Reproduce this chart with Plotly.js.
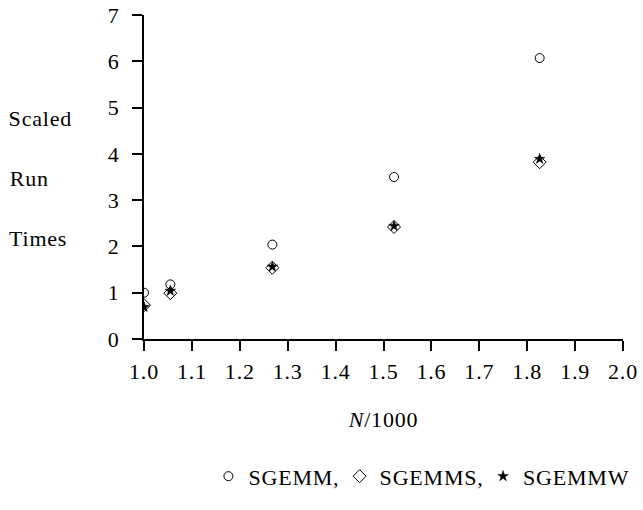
<!DOCTYPE html>
<html>
<head>
<meta charset="utf-8">
<script src="https://cdn.plot.ly/plotly-3.0.1.min.js"></script>
<style>
html,body{margin:0;padding:0;background:#fff;}
#chart{width:643px;height:510px;}
#chart .main-svg text{letter-spacing:0.8px;}
</style>
</head>
<body>
<div id="chart"></div>
<script>
// N/1000 values
const nValues = [1.0, 1.055, 1.268, 1.522, 1.826];
// Scaled run times
const sgemm  = [1.00, 1.18, 2.04, 3.50, 6.07];
const sgemms = [0.73, 0.99, 1.54, 2.42, 3.82];
const sgemmw = [0.69, 1.04, 1.56, 2.44, 3.89];
const seriesNames = ["SGEMM,", "SGEMMS,", "SGEMMW"];
const xTicks = [1.0, 1.1, 1.2, 1.3, 1.4, 1.5, 1.6, 1.7, 1.8, 1.9, 2.0];
const yTicks = [0, 1, 2, 3, 4, 5, 6, 7];
const yLabelLines = ["Scaled", "Run", "Times"];

const FONT = "Liberation Serif, DejaVu Serif, serif";
const FS = 22;

const traces = [
  {x: nValues, y: sgemm, name: seriesNames[0], mode: "markers", type: "scatter",
   marker: {symbol: "circle-open", size: 9, color: "#000", line: {width: 1, color: "#000"}}},
  {x: nValues, y: sgemms, name: seriesNames[1], mode: "markers", type: "scatter",
   marker: {symbol: "diamond-open", size: 10, color: "#000", line: {width: 1, color: "#000"}}},
  {x: nValues, y: sgemmw, name: seriesNames[2], mode: "markers", type: "scatter",
   marker: {symbol: "star", size: 8, color: "#000", line: {width: 0.5, color: "#000"}}}
];

const layout = {
  width: 643, height: 510,
  margin: {l: 144, r: 20, t: 15, b: 158},
  paper_bgcolor: "#fff", plot_bgcolor: "#fff",
  font: {family: FONT, size: FS, color: "#000"},
  showlegend: true,
  legend: {orientation: "h", x: 0.575, xanchor: "center", y: -0.424, yanchor: "middle",
           font: {family: FONT, size: FS, color: "#000"}, itemwidth: 30, tracegroupgap: 0,
           bgcolor: "rgba(0,0,0,0)"},
  xaxis: {
    range: [1.0, 2.0], tickvals: xTicks, ticktext: xTicks.map(v => v.toFixed(1)),
    showgrid: false, zeroline: false, showline: true, linecolor: "#000", linewidth: 2,
    ticks: "outside", ticklen: 10, tickwidth: 2, tickcolor: "#000",
    ticklabelstandoff: 2,
    tickfont: {family: FONT, size: FS, color: "#000"},
    title: {text: "<i>N</i>/1000", font: {family: FONT, size: FS, color: "#000"}, standoff: 28}
  },
  yaxis: {
    range: [0, 7], tickvals: yTicks, ticktext: yTicks.map(String),
    showgrid: false, zeroline: false, showline: true, linecolor: "#000", linewidth: 2,
    ticks: "outside", ticklen: 10, tickwidth: 2, tickcolor: "#000",
    ticklabelstandoff: 8,
    tickfont: {family: FONT, size: FS, color: "#000"}
  },
  annotations: yLabelLines.map((t, i) => ({
    text: t, xref: "paper", yref: "y", x: -0.282, xanchor: "left",
    y: [4.76, 3.47, 2.18][i], yanchor: "middle", showarrow: false,
    font: {family: FONT, size: FS, color: "#000"}
  }))
};

Plotly.newPlot("chart", traces, layout, {displayModeBar: false, staticPlot: true});
</script>
</body>
</html>
